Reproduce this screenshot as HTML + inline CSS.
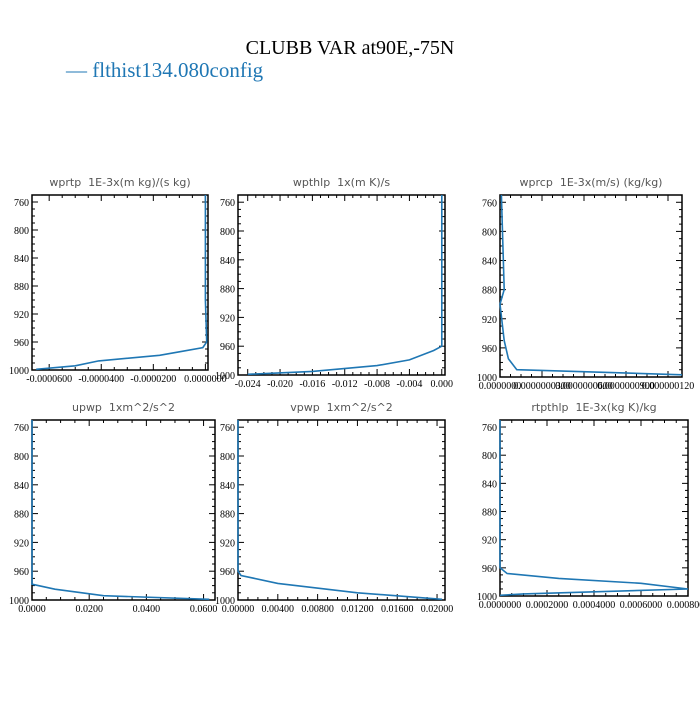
<!DOCTYPE html>
<html><head><meta charset="utf-8"><style>
body{margin:0;background:#fff;width:700px;height:700px;overflow:hidden}
svg text{font-family:"Liberation Serif",serif}
.pt{font-family:"DejaVu Sans","Liberation Sans",sans-serif;font-size:11px;fill:#555;white-space:pre}
</style></head><body>
<svg id="c" width="700" height="700">
<text x="350" y="54" text-anchor="middle" font-size="20">CLUBB VAR at90E,-75N</text>
<g><text x="66" y="77" font-size="21" fill="#1f77b4">— flthist134.080config</text></g>
</svg>
<script>
const pTicks=[760,800,840,880,920,960,1000];
const titles=["wprtp  1E-3x(m kg)/(s kg)","wpthlp  1x(m K)/s","wprcp  1E-3x(m/s) (kg/kg)","upwp  1xm^2/s^2","vpwp  1xm^2/s^2","rtpthlp  1E-3x(kg K)/kg"];
const xTickVals1=[-0.00006,-0.00004,-0.00002,0];
const xTickLbl1=["-0.0000600","-0.0000400","-0.0000200","0.0000000"];
const xTickVals2=[-0.024,-0.020,-0.016,-0.012,-0.008,-0.004,0];
const xTickLbl2=["-0.024","-0.020","-0.016","-0.012","-0.008","-0.004","0.000"];
const xTickVals3=[0,3e-8,6e-8,9e-8,1.2e-7];
const xTickLbl3=["0.0000000","0.0000000300","0.0000000600","0.0000000900","0.000000120"];
const xTickVals4=[0,0.02,0.04,0.06];
const xTickLbl4=["0.0000","0.0200","0.0400","0.0600"];
const xTickVals5=[0,0.004,0.008,0.012,0.016,0.020];
const xTickLbl5=["0.00000","0.00400","0.00800","0.01200","0.01600","0.02000"];
const xTickVals6=[0,0.0002,0.0004,0.0006,0.0008];
const xTickLbl6=["0.0000000","0.0002000","0.0004000","0.0006000","0.0008000"];
const lev1=[750,900,960,968,974,979,987,994,999];
const val1=[0,0,0.0000005,-0.000001,-0.00001,-0.0000176,-0.000041,-0.00005,-0.000065];
const lev2=[750,900,960,966,979,987,995,999];
const val2=[0,0,0,-0.001,-0.004,-0.008,-0.016,-0.024];
const lev3=[750,880,900,950,975,990,991,997];
const val3=[1e-9,3e-9,0,3e-9,6e-9,1.2e-8,3e-8,1.3e-7];
const lev4=[750,900,978,985,994,999];
const val4=[0,0,0,0.008,0.025,0.062];
const lev5=[750,900,960,966,977,990,999];
const val5=[0,0,0,0.0003,0.004,0.012,0.0205];
const lev6=[750,900,960,968,975,982,990,997,999];
const val6=[0,0,0,0.00003,0.00025,0.0006,0.0008,0.0001,0];
const NS="http://www.w3.org/2000/svg",svg=document.getElementById('c');
function el(t,a,p){const e=document.createElementNS(NS,t);for(const k in a)e.setAttribute(k,a[k]);(p||svg).appendChild(e);return e;}
const panels=[
 {x0:32,x1:208,y0:195,y1:370,xd:[-0.0000666,0.000001],tv:xTickVals1,tl:xTickLbl1,lev:lev1,val:val1},
 {x0:238,x1:445,y0:195,y1:375,xd:[-0.0252,0.0004],tv:xTickVals2,tl:xTickLbl2,lev:lev2,val:val2},
 {x0:500,x1:682,y0:195,y1:377,xd:[0,1.3e-7],tv:xTickVals3,tl:xTickLbl3,lev:lev3,val:val3},
 {x0:32,x1:215,y0:420,y1:600,xd:[0,0.064],tv:xTickVals4,tl:xTickLbl4,lev:lev4,val:val4},
 {x0:238,x1:445,y0:420,y1:600,xd:[0,0.0208],tv:xTickVals5,tl:xTickLbl5,lev:lev5,val:val5},
 {x0:500,x1:688,y0:420,y1:596,xd:[0,0.0008],tv:xTickVals6,tl:xTickLbl6,lev:lev6,val:val6}];
panels.forEach((P,i)=>{
 const g=el('g',{});
 
 
 const sx=v=>P.x0+(v-P.xd[0])/(P.xd[1]-P.xd[0])*(P.x1-P.x0);
 const sy=p=>P.y0+(p-750)/250*(P.y1-P.y0);
 const t=el('text',{x:(P.x0+P.x1)/2,y:P.y0-9,'text-anchor':'middle',class:'pt','xml:space':'preserve'},g);t.textContent=titles[i];
 
 
 const r=el('rect',{x:P.x0,y:P.y0,width:P.x1-P.x0,height:P.y1-P.y0,fill:'none',stroke:'#000','stroke-width':1.5},g);
 
 
 for(let p=760;p<=1000;p+=10){const y=sy(p),L=(p%40==0)?6:3;
  el('line',{x1:P.x0,x2:P.x0+L,y1:y,y2:y,stroke:'#000'},g);el('line',{x1:P.x1,x2:P.x1-L,y1:y,y2:y,stroke:'#000'},g);}
 pTicks.forEach(p=>{const tt=el('text',{x:P.x0-3,y:sy(p)+4,'text-anchor':'end','font-size':10},g);tt.textContent=p;
  
  });
 P.tv.forEach((v,j)=>{const x=sx(v);
  el('line',{x1:x,x2:x,y1:P.y1,y2:P.y1-6,stroke:'#000'},g);el('line',{x1:x,x2:x,y1:P.y0,y2:P.y0+6,stroke:'#000'},g);
  const tt=el('text',{x:x,y:P.y1+12,'text-anchor':'middle','font-size':10},g);tt.textContent=P.tl[j];
  
  
  if(j<P.tv.length-1)for(let k=1;k<4;k++){const xm=sx(v+(P.tv[j+1]-v)*k/4);
   el('line',{x1:xm,x2:xm,y1:P.y1,y2:P.y1-3,stroke:'#000'},g);el('line',{x1:xm,x2:xm,y1:P.y0,y2:P.y0+3,stroke:'#000'},g);}});
 const pts=P.lev.map((p,k)=>sx(P.val[k]).toFixed(1)+','+sy(p).toFixed(1)).join(' ');
 const pl=el('polyline',{points:pts,fill:'none',stroke:'#1f77b4','stroke-width':1.6},g);
 
 
});
</script>
</body></html>
